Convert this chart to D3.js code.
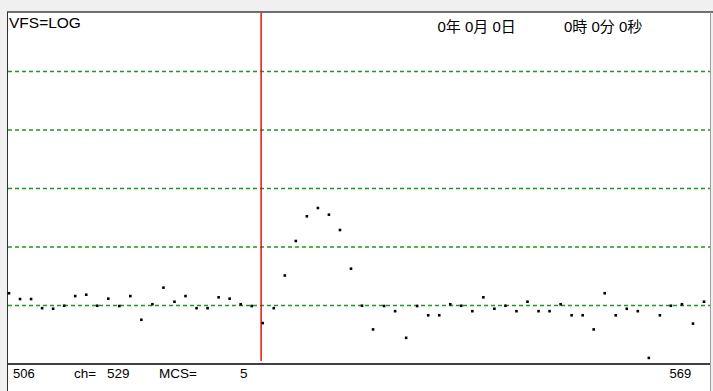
<!DOCTYPE html>
<html><head><meta charset="utf-8">
<script src="https://cdn.jsdelivr.net/npm/d3@7"></script>
<style>html,body{margin:0;padding:0;background:#f0f0f0;overflow:hidden}</style>
</head><body>
<script>
// ---- data ----
const channels = d3.range(506, 570);            // 64 channels 506..569
const counts = [16.2,12.9,12.9,9.0,8.8,9.9,14.5,15.3,9.9,13.1,
                9.8,14.5,5.7,10.5,20.2,11.6,14.5,9.0,9.0,13.8,
                13.1,10.5,9.8,5.0,9.0,32.6,126.7,335,464,357,
                195,42.6,9.9,3.9,9.8,8.0,2.8,9.8,6.8,6.8,
                10.5,9.9,8.0,13.8,8.8,9.9,8.0,11.6,8.0,8.0,
                10.5,6.8,6.8,3.9,16.2,6.8,8.8,8.0,1.27,6.8,
                9.9,10.5,4.9,11.6];
const gridValues = [10, 100, 1000, 10000, 100000];
const cursorCh = 529;
const mcs = 5;
const dateText = "0年 0月 0日";
const timeText = "0時 0分 0秒";

const W = 713, H = 391;
const svg = d3.select("body").append("svg").attr("width", W).attr("height", H);
svg.append("rect").attr("width", W).attr("height", H).attr("fill", "#f0f0f0");
// white panel
svg.append("rect").attr("x", 7.5).attr("y", 12).attr("width", 703).attr("height", 380)
  .attr("fill", "#fff");

const x = d3.scaleLinear().domain([506, 569]).range([9, 704]);
const y = d3.scaleLog().domain([1, 1e6]).range([364, 13]);

// gridlines
svg.append("g").selectAll("line").data(gridValues).join("line")
  .attr("x1", 8).attr("x2", 710)
  .attr("y1", d => y(d)).attr("y2", d => y(d))
  .attr("stroke", "#1f961f").attr("stroke-width", 1.3)
  .attr("stroke-dasharray", "4,3");

// frame
svg.append("line").attr("x1", 7).attr("x2", 713).attr("y1", 12).attr("y2", 12)
  .attr("stroke", "#404040").attr("stroke-width", 1.6);
svg.append("line").attr("x1", 7.5).attr("x2", 7.5).attr("y1", 12).attr("y2", H)
  .attr("stroke", "#303030").attr("stroke-width", 1);
svg.append("line").attr("x1", 710.5).attr("x2", 710.5).attr("y1", 12).attr("y2", H)
  .attr("stroke", "#a0a0a0").attr("stroke-width", 1);
svg.append("line").attr("x1", 8).attr("x2", 710).attr("y1", 364).attr("y2", 364)
  .attr("stroke", "#000").attr("stroke-width", 1.4);

// cursor
svg.append("line").attr("x1", x(cursorCh) - 1.6).attr("x2", x(cursorCh) - 1.6)
  .attr("y1", 13).attr("y2", 361)
  .attr("stroke", "#e81010").attr("stroke-width", 1.5);

// points
svg.append("g").selectAll("rect").data(channels).join("rect")
  .attr("x", (d, i) => x(d) - 1.3).attr("y", (d, i) => y(counts[i]) - 1.3)
  .attr("width", 2.6).attr("height", 2.6).attr("fill", "#000");

// texts
const font = "'Liberation Sans', 'Noto Sans CJK JP', Arial, sans-serif";
const txt = (s, tx, ty, size) => svg.append("text").attr("x", tx).attr("y", ty)
  .attr("font-family", font).attr("font-size", size).attr("fill", "#000")
  .style("white-space", "pre").text(s);
txt("VFS=LOG", 9, 28.3, 15.5);
txt(dateText, 437.5, 32, 15);
txt(timeText, 564, 32, 15);
txt(String(channels[0]), 13, 377.5, 13);
txt("ch=", 74, 377.5, 13.5);
txt(String(cursorCh), 107, 377.5, 13.5);
txt("MCS=", 159, 377.5, 13.5);
txt(String(mcs), 240, 377.5, 13.5);
txt(String(channels[channels.length - 1]), 669.5, 377.5, 13);
</script>
</body></html>
